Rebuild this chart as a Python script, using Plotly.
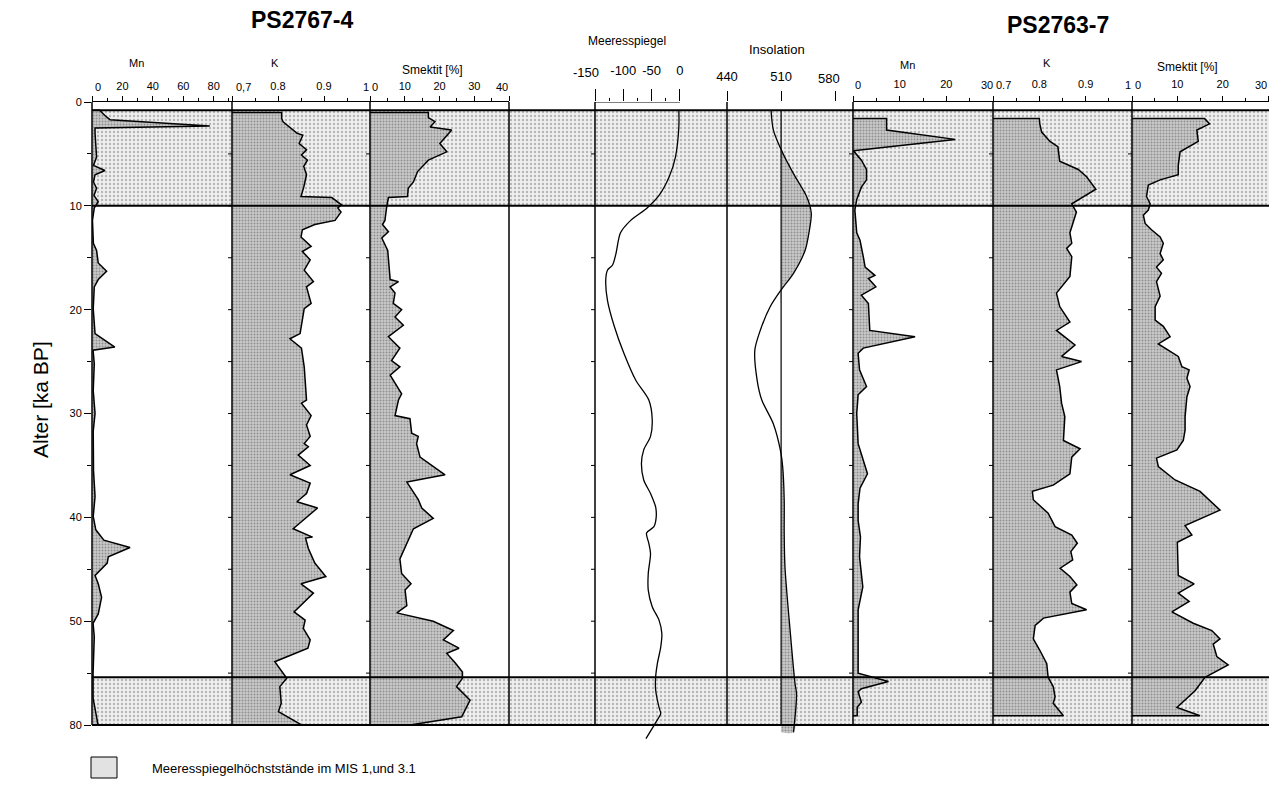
import plotly.graph_objects as go

# ---------------- data (age in ka BP) ----------------
# PS2767-4
mn1_age = [0.8, 1.3, 1.7, 2.3, 2.5, 3.0, 5.3, 6.1, 6.6, 7.0, 7.7, 8.3, 9.0, 9.6, 10.2, 11.4, 13.6, 14.3, 15.5, 16.3,
           17.1, 17.8, 19.9, 22.3, 23.6, 23.9, 25.2, 27.8, 30.0, 31.7, 35.5, 38.0, 39.9, 41.2, 42.2, 42.9, 43.8, 44.4,
           45.6, 46.4, 47.7, 49.3, 50.2, 51.5, 55.0, 57.4, 59.8, 60.0]
mn1_val = [5, 8.5, 11.8, 77.4, 2.0, 2.0, 3, 1, 8.5, 2, 1, 3, 1.3, 4.1, 1.5, 0.3, 0.9, 3.0, 4.1, 9.6,
           4.1, 1.5, 0.8, 2.0, 15, 0.7, 1.5, 0.8, 2, 0.8, 1, 2, 0.8, 2.5, 7.8, 25, 10.7, 10,
           2, 4.1, 6.3, 4.1, 0.7, 1.5, 0.7, 0.7, 4.1, 4]

k1_age = [1.0, 1.6, 1.9, 3.0, 3.2, 4.0, 4.6, 5.1, 5.6, 6.2, 7.0, 8.2, 9.1, 9.2, 9.9, 10.2, 10.6, 11.4, 11.8, 12.3,
          13.0, 13.9, 14.4, 15.2, 16.2, 17.3, 17.8, 19.4, 19.9, 22.3, 22.8, 23.7, 25.5, 28.7, 29.0, 30.2, 31.1, 32.2,
          32.9, 33.2, 34.0, 35.0, 35.9, 36.7, 37.7, 38.5, 39.1, 41.1, 41.9, 42.0, 43.0, 44.4, 45.7, 46.4, 47.3, 49.1,
          49.9, 50.7, 51.8, 52.6, 53.9, 55.5, 56.3, 57.9, 58.7, 60.0]
k1_val = [0.808, 0.808, 0.811, 0.841, 0.854, 0.846, 0.862, 0.851, 0.864, 0.856, 0.862, 0.856, 0.850, 0.917, 0.938,
          0.930, 0.937, 0.924, 0.880, 0.853, 0.850, 0.872, 0.853, 0.870, 0.857, 0.877, 0.862, 0.872, 0.857, 0.848,
          0.826, 0.851, 0.857, 0.862, 0.851, 0.872, 0.862, 0.870, 0.857, 0.866, 0.844, 0.870, 0.826, 0.870, 0.862,
          0.841, 0.886, 0.833, 0.875, 0.860, 0.866, 0.880, 0.904, 0.850, 0.877, 0.835, 0.859, 0.855, 0.870, 0.865,
          0.793, 0.819, 0.804, 0.807, 0.801, 0.852]

sm1_age = [1.0, 1.5, 1.9, 2.4, 2.7, 4.0, 4.8, 5.6, 6.7, 7.7, 8.3, 9.1, 9.2, 10.1, 11.4, 11.8, 12.5, 13.1, 14.3, 17.1,
           17.3, 17.8, 18.4, 19.4, 20.0, 20.7, 21.5, 22.6, 23.7, 24.9, 25.5, 26.3, 28.1, 28.7, 30.2, 30.5, 31.9, 32.2,
           32.9, 34.2, 35.9, 36.6, 37.7, 38.3, 39.1, 40.1, 41.1, 42.5, 44.0, 45.4, 46.4, 47.0, 48.5, 49.2, 50.0, 50.9,
           51.8, 52.6, 53.1, 54.0, 54.9, 55.5, 56.3, 57.6, 59.2, 60.0]
sm1_val = [16.8, 16.8, 18.7, 17.3, 23.5, 20.1, 22.1, 16.8, 13.7, 12.5, 11.0, 10.8, 5.3, 4.8, 4.3, 3.6, 5.3, 3.4, 5.1,
           5.8, 8.2, 5.8, 7.2, 6.7, 9.1, 7.2, 9.6, 5.3, 8.6, 6.2, 8.6, 5.8, 9.1, 8.2, 7.2, 11.5, 12.0, 13.9, 13.4,
           14.4, 21.6, 10.6, 12.9, 13.9, 14.9, 18.2, 12.5, 10.6, 8.6, 9.1, 11.8, 10.1, 10.6, 7.7, 18.2, 24.0, 21.1,
           25.6, 22.1, 24.5, 26.6, 26.6, 24.9, 28.8, 26.4, 11.5]

# Meeresspiegel (m) and Insolation (W/m2)
sea_age = [0.8, 2.4, 5.3, 7.2, 9.0, 10.2, 11.4, 12.6, 14.6, 15.7, 16.2, 17.1, 19.1, 21.6, 24.2, 26.8, 28.7, 30.6,
           32.2, 33.5, 34.8, 36.4, 37.7, 39.0, 40.0, 40.9, 41.5, 42.5, 43.5, 45.4, 47.0, 48.6, 49.9, 51.2, 52.5,
           54.1, 55.4, 56.6, 58.3, 58.9, 59.5, 61.3]
sea_val = [-2, -2, -8, -19, -37, -58, -87, -105, -113, -119, -128, -131, -128, -116, -99, -78, -55, -49, -52, -64,
           -68, -64, -52, -43, -42, -46, -59, -55, -52, -56, -56, -49, -37, -32, -34, -40, -43, -43, -37, -34, -40, -60]

ins_age = [0.8, 2.7, 4.9, 6.9, 9.1, 10.7, 12.6, 14.3, 16.5, 18.1, 19.7, 22.0, 23.9, 26.8, 28.7, 31.0, 33.5, 35.1,
           38.3, 41.5, 44.8, 51.2, 56.0, 57.0, 60.7]
ins_val = [497, 500, 512, 526, 543, 549, 546, 541, 526, 510, 496, 483, 476, 479, 485, 500, 509, 512, 514, 514, 515,
           522, 528, 530, 526]
ins_ref = 510

# PS2763-7
mn2_age = [1.6, 2.7, 3.6, 4.7, 5.6, 6.5, 7.5, 8.2, 9.4, 10.4, 12.6, 13.3, 13.9, 14.9, 15.9, 16.7, 17.0, 17.8, 18.6,
           19.4, 22.0, 22.6, 23.7, 24.2, 25.8, 27.4, 28.2, 30.0, 32.9, 34.5, 35.8, 37.2, 38.7, 40.3, 41.9, 43.8, 44.8,
           46.7, 48.9, 51.5, 55.0, 55.8, 56.5, 56.8, 57.8, 58.3, 59.1]
mn2_val = [7.2, 7.2, 21.9, 0.1, 1.8, 2.9, 2.9, 1.8, 0.8, 0.4, 0.8, 1.5, 1.8, 2.2, 2.6, 4.7, 3.3, 4.9, 1.8, 3.3, 3.6,
           13.3, 2.2, 1.1, 1.4, 2.9, 1.1, 0.8, 1.1, 2.2, 3.1, 1.5, 1.1, 1.1, 1.6, 1.4, 1.6, 2.1, 1.1, 1.1, 1.1, 7.6,
           1.8, 1.1, 1.8, 0.9, 0.9]

k2_age = [1.6, 2.1, 2.9, 3.8, 4.3, 5.7, 6.5, 7.2, 8.4, 9.8, 10.6, 12.6, 13.6, 14.1, 14.9, 16.8, 18.4, 19.7, 21.2,
          22.0, 23.4, 24.5, 25.0, 25.8, 27.4, 29.0, 30.3, 32.6, 33.4, 34.2, 35.8, 36.9, 37.5, 38.3, 39.6, 40.9, 41.7,
          42.5, 43.3, 44.1, 44.9, 45.7, 46.5, 47.2, 48.3, 48.9, 49.7, 50.4, 51.7, 52.8, 54.1, 55.4, 56.3, 57.3, 57.9,
          59.1]
k2_val = [0.800, 0.801, 0.805, 0.823, 0.840, 0.844, 0.884, 0.902, 0.922, 0.870, 0.880, 0.866, 0.870, 0.859, 0.870,
          0.866, 0.837, 0.844, 0.866, 0.837, 0.877, 0.848, 0.891, 0.837, 0.844, 0.848, 0.855, 0.852, 0.888, 0.870,
          0.866, 0.830, 0.785, 0.787, 0.819, 0.834, 0.870, 0.882, 0.868, 0.872, 0.845, 0.866, 0.881, 0.866, 0.870,
          0.902, 0.809, 0.791, 0.787, 0.801, 0.816, 0.819, 0.830, 0.834, 0.830, 0.852]

sm2_age = [1.6, 2.1, 2.7, 3.8, 4.8, 6.1, 7.0, 7.5, 8.0, 9.1, 9.8, 10.4, 10.9, 11.7, 12.3, 13.0, 13.6, 14.6, 15.2,
           15.9, 16.5, 17.3, 18.7, 19.7, 21.0, 21.6, 22.6, 23.3, 24.5, 25.5, 25.8, 26.6, 27.4, 28.4, 30.3, 31.6, 32.6,
           33.5, 34.3, 35.1, 36.4, 37.5, 39.3, 40.8, 41.7, 42.4, 45.6, 46.4, 47.3, 48.1, 49.1, 50.2, 50.9, 51.7, 52.2,
           53.4, 54.2, 55.4, 56.7, 58.3, 59.1]
sm2_val = [16.0, 17.1, 14.3, 14.6, 10.6, 10.2, 10.2, 6.2, 3.6, 3.2, 4.0, 3.6, 2.5, 2.9, 4.3, 6.2, 6.9, 6.2, 6.9, 5.4,
           6.5, 5.4, 6.2, 5.1, 5.1, 6.9, 8.4, 5.8, 10.2, 11.0, 12.6, 12.1, 12.8, 12.1, 11.7, 11.7, 11.3, 9.9, 5.4, 5.8,
           9.5, 15.0, 19.4, 11.7, 13.2, 10.0, 10.2, 13.7, 10.2, 12.6, 8.8, 13.5, 17.6, 19.4, 17.9, 18.7, 21.2, 16.1,
           13.9, 9.9, 15.0]

# sea-level highstand intervals (MIS 1 and 3.1) and record limits
highstand_top = [0.8, 55.4]
highstand_base = [10.0, 60.0]
record_top = 0.8
record_base = 60.0

# ---------------- tick labels ----------------
y_tick_vals = [0, 10, 20, 30, 40, 50, 60]
y_tick_text = ["0", "10", "20", "30", "40", "50", "80"]
y_minor_vals = [5, 15, 25, 35, 45, 55]
edge_tick_ages = [5, 10, 15, 20, 25, 30, 35, 40, 45, 50, 55, 60]

mn1_ticks = [0, 20, 40, 60, 80]
mn1_ticktext = ["0", "20", "40", "60", "80"]
mn1_minor = [10, 30, 50, 70, 90]
k_ticks = [0.7, 0.8, 0.9, 1.0]
k1_ticktext = ["0,7", "0.8", "0.9", "1"]
k2_ticktext = ["0.7", "0.8", "0.9", "1"]
k_minor = [0.75, 0.85, 0.95]
sm1_ticks = [0, 10, 20, 30, 40]
sm1_ticktext = ["0", "10", "20", "30", "40"]
sm1_minor = [5, 15, 25, 35]
sea_ticks = [-150, -100, -50, 0]
sea_ticktext = ["-150", "-100", "-50", "0"]
sea_minor = [-125, -75, -25]
ins_ticks = [440, 510, 580]
ins_ticktext = ["440", "510", "580"]
mn2_ticks = [0, 10, 20, 30]
mn2_ticktext = ["0", "10", "20", "30"]
mn2_minor = [5, 15, 25]
sm2_ticks = [0, 10, 20, 30]
sm2_ticktext = ["0", "10", "20", "30"]
sm2_minor = [5, 15, 25]

# ---------------- layout geometry ----------------
W, H = 1269, 791
ML, MR, MT, MB = 92, 0, 102, 40
PW, PH = W - ML - MR, H - MT - MB
AGE_AXIS_MAX = 62.5
FONT = "Arial, Liberation Sans, sans-serif"


def px_x(px):
    return (px - ML) / PW


def px_y(py):
    return (H - MB - py) / PH


edges = [92, 232, 370, 509, 595, 727, 853, 993, 1132, 1269]
# shift: pixel offsets for end labels that sit off their tick (index -> px shift)
panels = [
    dict(ax="x", rng=[0, 92], tv=mn1_ticks, tt=mn1_ticktext, mv=mn1_minor, tl=5, fs=11, ly=87,
         shift={0: 6}),
    dict(ax="x2", rng=[0.7, 1.0], tv=k_ticks, tt=k1_ticktext, mv=k_minor, tl=5, fs=11, ly=87,
         shift={0: 11, 3: -4}),
    dict(ax="x3", rng=[0, 40], tv=sm1_ticks, tt=sm1_ticktext, mv=sm1_minor, tl=5, fs=11, ly=87,
         shift={0: 5, 4: -7}),
    dict(ax="x4", rng=[0, 1], tv=None),
    dict(ax="x5", rng=[-150, 83], tv=sea_ticks, tt=sea_ticktext, mv=sea_minor, tl=12, fs=13, ly=72,
         shift={0: -9}),
    dict(ax="x6", rng=[440, 603], tv=ins_ticks, tt=ins_ticktext, mv=[], tl=10, fs=13, ly=78,
         shift={2: -6}),
    dict(ax="x7", rng=[0, 30], tv=mn2_ticks, tt=mn2_ticktext, mv=mn2_minor, tl=5, fs=11, ly=85,
         shift={0: 5, 3: -6}),
    dict(ax="x8", rng=[0.7, 1.0], tv=k_ticks, tt=k2_ticktext, mv=k_minor, tl=5, fs=11, ly=85,
         shift={0: 10, 3: -4}),
    dict(ax="x9", rng=[0, 30.2], tv=sm2_ticks, tt=sm2_ticktext, mv=sm2_minor, tl=5, fs=11, ly=85,
         shift={0: 6, 3: -7}),
]

band_pattern = dict(shape=".", fgcolor="#7a7a7a", bgcolor="#efefef", size=4, solidity=0.28)
data_pattern = dict(shape=".", fgcolor="#555555", bgcolor="#c9c9c9", size=3, solidity=0.35)

fig = go.Figure()

# stippled highstand bands in every column
for p in panels:
    r0, r1 = p["rng"]
    for t, b in zip(highstand_top, highstand_base):
        fig.add_trace(go.Scatter(x=[r0, r1, r1, r0], y=[t, t, b, b], xaxis=p["ax"], yaxis="y",
                                 mode="lines", fill="toself", fillcolor="#eeeeee", fillpattern=band_pattern,
                                 line=dict(width=0), hoverinfo="skip", showlegend=False))


def filled(ax, ages, vals, base):
    fig.add_trace(go.Scatter(x=[base] + list(vals) + [base], y=[ages[0]] + list(ages) + [ages[-1]],
                             xaxis=ax, yaxis="y", mode="lines", fill="toself", fillcolor="#c8c8c8",
                             fillpattern=data_pattern, line=dict(color="black", width=1.5),
                             showlegend=False))


filled("x", mn1_age, mn1_val, 0)
filled("x2", k1_age, k1_val, 0.7)
filled("x3", sm1_age, sm1_val, 0)
filled("x7", mn2_age, mn2_val, 0)
filled("x8", k2_age, k2_val, 0.7)
filled("x9", sm2_age, sm2_val, 0)

# sea level curve
fig.add_trace(go.Scatter(x=sea_val, y=sea_age, xaxis="x5", yaxis="y", mode="lines",
                         line=dict(color="black", width=1.3, shape="spline", smoothing=0.8), showlegend=False))

# insolation: shading where above reference, then curve
ins_above = [max(v, ins_ref) for v in ins_val]
fig.add_trace(go.Scatter(x=[ins_ref] + ins_above + [ins_ref], y=[ins_age[0]] + ins_age + [ins_age[-1]],
                         xaxis="x6", yaxis="y", mode="lines", fill="toself", fillcolor="#c8c8c8",
                         fillpattern=data_pattern, line=dict(width=0, shape="spline", smoothing=0.8),
                         showlegend=False))
fig.add_trace(go.Scatter(x=ins_val, y=ins_age, xaxis="x6", yaxis="y", mode="lines",
                         line=dict(color="black", width=1.3, shape="spline", smoothing=0.8), showlegend=False))

layout = dict(
    width=W, height=H, autosize=False, margin=dict(l=ML, r=MR, t=MT, b=MB, pad=0),
    paper_bgcolor="white", plot_bgcolor="white", showlegend=False,
    font=dict(family=FONT, color="black"),
    yaxis=dict(range=[AGE_AXIS_MAX, 0], domain=[0, 1], anchor="x", tickvals=y_tick_vals, ticktext=y_tick_text,
               ticks="outside", ticklen=7, tickwidth=1, tickcolor="black", showline=False, showgrid=False,
               zeroline=False, tickfont=dict(size=11, family=FONT), fixedrange=True,
               minor=dict(tickvals=y_minor_vals, ticks="outside", ticklen=4, tickcolor="black")),
)

annotations = []
for i, p in enumerate(panels):
    key = "xaxis" if i == 0 else f"xaxis{i + 1}"
    d = dict(domain=[px_x(edges[i]), px_x(edges[i + 1])], range=p["rng"], anchor="y", side="top",
             showgrid=False, zeroline=False, fixedrange=True)
    if p["tv"] is None:
        d.update(showline=False, showticklabels=False, ticks="")
    else:
        # end labels that sit beside their tick are drawn as annotations
        axis_text = [("" if j in p["shift"] else t) for j, t in enumerate(p["tt"])]
        d.update(tickvals=p["tv"], ticktext=axis_text, ticks="outside", ticklen=p["tl"], tickwidth=1,
                 tickcolor="black", showline=p["ax"] not in ("x5", "x6"), linecolor="black", linewidth=1,
                 tickfont=dict(size=p["fs"], family=FONT), tickangle=0,
                 ticklabelstandoff=max(0, int(MT - p["ly"] - p["tl"] - p["fs"] * 0.5 - 2)),
                 ticklabeloverflow="allow",
                 minor=dict(tickvals=p["mv"], ticks="outside", ticklen=3, tickcolor="black"))
        for j, s in p["shift"].items():
            annotations.append(dict(text=p["tt"][j], xref=p["ax"], x=p["tv"][j], xshift=s, yref="paper",
                                    y=px_y(p["ly"]), xanchor="center", yanchor="middle", showarrow=False,
                                    font=dict(size=p["fs"], family=FONT)))
    layout[key] = d

shapes = []
# record and band boundary lines
for a in sorted(set([record_top] + highstand_top + highstand_base + [record_base])):
    shapes.append(dict(type="line", xref="paper", yref="y", x0=0, x1=1, y0=a, y1=a,
                       line=dict(color="black", width=2)))
# panel boundaries
for e in edges[:-1]:
    shapes.append(dict(type="line", xref="paper", yref="y", x0=px_x(e), x1=px_x(e), y0=0, y1=record_base,
                       line=dict(color="black", width=1.5)))
# sea-level scale bar (only spans the labelled range)
shapes.append(dict(type="line", xref="x5", yref="y", x0=sea_ticks[0], x1=sea_ticks[-1], y0=0, y1=0,
                   line=dict(color="black", width=1)))
# insolation reference line
shapes.append(dict(type="line", xref="x6", yref="y", x0=ins_ref, x1=ins_ref, y0=record_top, y1=record_base,
                   line=dict(color="black", width=1.2)))
# small age ticks on inner panel edges
for e in [232, 370, 595, 853, 993, 1132]:
    for a in edge_tick_ages:
        shapes.append(dict(type="line", xref="paper", yref="y", xsizemode="pixel", xanchor=px_x(e),
                           x0=-4, x1=0, y0=a, y1=a, line=dict(color="black", width=1)))
# legend swatch
shapes.append(dict(type="rect", xref="paper", yref="paper", x0=px_x(91), x1=px_x(117), y0=px_y(778),
                   y1=px_y(757), fillcolor="#e2e2e2", line=dict(color="black", width=1)))
layout["shapes"] = shapes


def ann(text, px, py, size, bold=False, anchor="center"):
    return dict(text=f"<b>{text}</b>" if bold else text, xref="paper", yref="paper", x=px_x(px), y=px_y(py),
                xanchor=anchor, yanchor="middle", showarrow=False, font=dict(size=size, family=FONT))


annotations += [
    ann("PS2767-4", 302, 20, 23, bold=True),
    ann("PS2763-7", 1058, 25, 23, bold=True),
    ann("Mn", 136, 63, 11),
    ann("K", 275, 63, 11),
    ann("Smektit [%]", 432, 70, 12),
    ann("Meeresspiegel", 627, 41, 12),
    ann("Insolation", 777, 49, 13),
    ann("Mn", 907, 65, 11),
    ann("K", 1047, 63, 11),
    ann("Smektit [%]", 1187, 67, 12),
    ann("Meeresspiegelhöchststände im MIS 1,und 3.1", 150, 768, 13, anchor="left"),
]
annotations.append(dict(text="Alter [ka BP]", xref="paper", yref="paper", x=px_x(40), y=px_y(400),
                        xanchor="center", yanchor="middle", textangle=-90, showarrow=False,
                        font=dict(size=21, family=FONT)))
layout["annotations"] = annotations

fig.update_layout(**layout)
fig.write_html(
    "out.html",
    config={"responsive": False, "displayModeBar": False},
    post_script="document.body.style.margin='0px';document.body.style.overflow='hidden';"
                "document.documentElement.style.overflow='hidden';",
)
